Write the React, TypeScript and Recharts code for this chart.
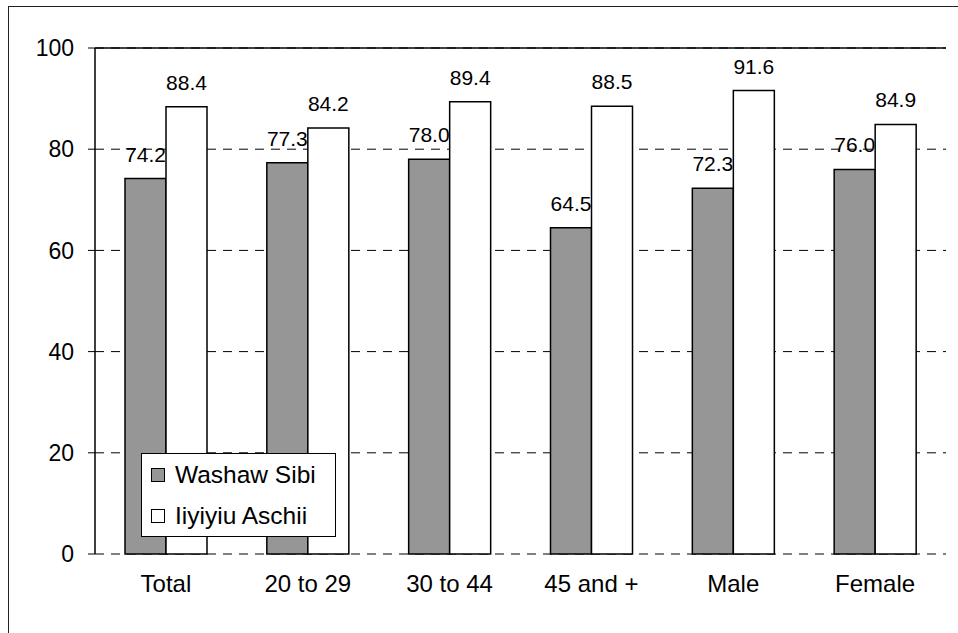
import {
  BarChart,
  Bar,
  XAxis,
  YAxis,
  CartesianGrid,
  ReferenceLine,
  LabelList,
} from 'recharts'

const CATEGORIES = ['Total', '20 to 29', '30 to 44', '45 and +', 'Male', 'Female']
const WASHAW_SIBI = [74.2, 77.3, 78.0, 64.5, 72.3, 76.0]
const IIYIYIU_ASCHII = [88.4, 84.2, 89.4, 88.5, 91.6, 84.9]
const Y_TICKS = [0, 20, 40, 60, 80, 100]
const BOUNDARY_TICKS = [0, 1, 2, 3, 4, 5, 6]

const SERIES = [
  { key: 'washaw', name: 'Washaw Sibi', fill: '#969696' },
  { key: 'iiyiyiu', name: 'Iiyiyiu Aschii', fill: '#ffffff' },
]

const data = CATEGORIES.map((cat, i) => ({
  cat,
  washaw: WASHAW_SIBI[i],
  iiyiyiu: IIYIYIU_ASCHII[i],
}))

const FONT = '"Liberation Sans", Arial, sans-serif'

// legend box sits inside the plot, over the first two categories
function LegendBox() {
  return (
    <div
      style={{
        position: 'absolute',
        left: 141,
        top: 453,
        width: 195,
        height: 84,
        boxSizing: 'border-box',
        border: '1px solid #000',
        background: '#fff',
        padding: '0 0 0 9px',
        fontFamily: FONT,
        fontSize: 24.5,
        color: '#000',
      }}
    >
      {SERIES.map(s => (
        <div key={s.key} style={{ display: 'flex', alignItems: 'center', height: 41 }}>
          <span
            style={{
              display: 'inline-block',
              width: 12,
              height: 12,
              border: '1.5px solid #000',
              background: s.fill,
              marginRight: 10,
            }}
          />
          <span>{s.name}</span>
        </div>
      ))}
    </div>
  )
}

export default function App() {
  return (
    <div style={{ position: 'absolute', left: 0, top: 0, width: 958, height: 633, overflow: 'hidden', background: '#fff' }}>
      <div
        style={{
          position: 'absolute',
          left: 8,
          top: 6,
          width: 980,
          height: 660,
          border: '1px solid #222',
        }}
      />
      <BarChart
        width={958}
        height={633}
        data={data}
        margin={{ top: 48, right: 12, bottom: 19, left: 30 }}
        barSize={41}
        barGap={0}
        style={{ position: 'absolute', left: 0, top: 0, fontFamily: FONT }}
      >
        <CartesianGrid vertical={false} stroke="#000" strokeDasharray="9 7" />
        <XAxis
          xAxisId="ticks"
          type="number"
          domain={[0, 6]}
          ticks={BOUNDARY_TICKS}
          tick={false}
          tickSize={8}
          height={0}
          axisLine={{ stroke: '#000', strokeWidth: 1.5 }}
          tickLine={{ stroke: '#000', strokeWidth: 1.2 }}
          allowDataOverflow
        />
        <XAxis
          dataKey="cat"
          height={60}
          axisLine={false}
          tickLine={false}
          tickMargin={15}
          tick={{ fontSize: 24, fill: '#000' }}
        />
        <YAxis
          domain={[0, 100]}
          ticks={Y_TICKS}
          width={65}
          tickSize={7}
          tickMargin={14}
          axisLine={{ stroke: '#000', strokeWidth: 1.5 }}
          tickLine={{ stroke: '#000' }}
          tick={{ fontSize: 23, fill: '#000' }}
        />
        <YAxis
          yAxisId="frame"
          orientation="right"
          domain={[0, 100]}
          width={0}
          tick={false}
          tickLine={false}
          axisLine={{ stroke: '#000', strokeWidth: 1.5 }}
        />
        <ReferenceLine y={100} stroke="#000" strokeWidth={1.5} />
        {SERIES.map(s => (
          <Bar
            key={s.key}
            dataKey={s.key}
            name={s.name}
            fill={s.fill}
            stroke="#000"
            strokeWidth={1.5}
            isAnimationActive={false}
          >
            <LabelList
              dataKey={s.key}
              position="top"
              offset={17}
              fontSize={21}
              fill="#000"
              formatter={(v: number) => v.toFixed(1)}
            />
          </Bar>
        ))}
      </BarChart>
      <LegendBox />
    </div>
  )
}
